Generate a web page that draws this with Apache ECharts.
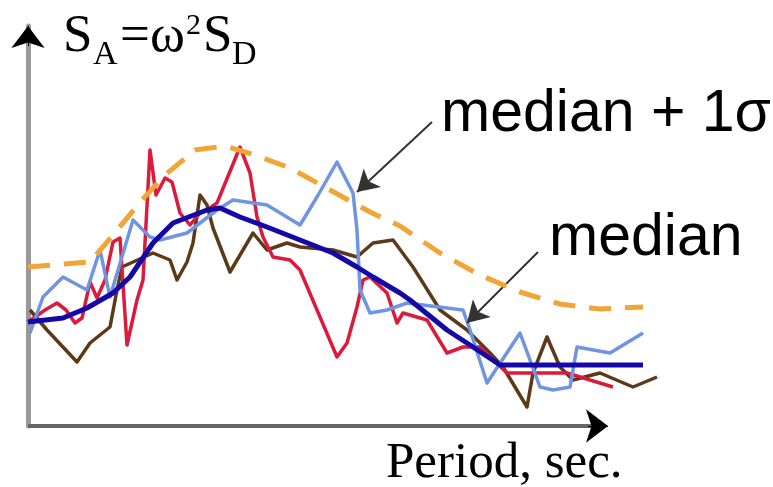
<!DOCTYPE html>
<html>
<head>
<meta charset="utf-8">
<script src="https://cdn.jsdelivr.net/npm/echarts@6/dist/echarts.min.js"></script>
<style>html,body{margin:0;padding:0;background:#fff}#c{width:773px;height:487px}</style>
</head>
<body>
<div id="c"></div>
<script>
// Period (sec, schematic) and spectral acceleration (schematic units)
const medianPlus1Sigma = [[0,1.59],[0.62,1.64],[0.85,1.91],[1.14,2.26],[1.37,2.51],[1.67,2.76],[1.97,2.80],[2.27,2.71],[2.62,2.58],[3.02,2.36],[3.42,2.14],[3.72,2.00],[4.12,1.73],[4.52,1.51],[4.92,1.34],[5.32,1.22],[5.72,1.17],[6.15,1.19]];
const medianLine = [[0,1.04],[0.35,1.08],[0.59,1.18],[0.85,1.33],[1.02,1.49],[1.25,1.83],[1.45,2.03],[1.79,2.16],[1.92,2.18],[2.12,2.09],[2.39,1.99],[2.72,1.86],[3.05,1.73],[3.29,1.59],[3.45,1.49],[3.72,1.33],[3.82,1.26],[4.19,0.96],[4.45,0.79],[4.72,0.61],[6.15,0.61]];
const recordRed = [[0,1.04],[0.17,1.16],[0.29,1.23],[0.38,1.16],[0.47,1.03],[0.54,1.08],[0.62,1.44],[0.69,1.28],[0.77,1.46],[0.85,1.84],[0.92,1.88],[0.99,0.81],[1.09,1.26],[1.15,1.46],[1.22,2.76],[1.28,2.31],[1.37,2.48],[1.44,2.44],[1.52,2.13],[1.62,2.01],[1.72,2.13],[1.79,2.16],[1.89,2.23],[2.12,2.79],[2.22,2.53],[2.29,2.09],[2.35,1.89],[2.45,1.69],[2.62,1.66],[2.72,1.56],[2.92,1.09],[3.09,0.69],[3.19,0.83],[3.29,1.19],[3.35,1.46],[3.42,1.49],[3.59,1.33],[3.69,1.03],[3.75,1.13],[3.99,1.06],[4.19,0.73],[4.35,0.79],[4.52,0.79],[4.79,0.53],[5.19,0.53],[5.39,0.53],[5.62,0.46],[5.85,0.39]];
const recordBrown = [[0.02,1.16],[0.19,0.96],[0.49,0.64],[0.62,0.83],[0.82,0.99],[0.89,1.36],[0.94,1.59],[1.25,1.73],[1.42,1.66],[1.49,1.46],[1.59,1.64],[1.65,1.83],[1.72,2.31],[1.79,2.21],[1.85,1.98],[2.02,1.54],[2.25,1.93],[2.39,1.76],[2.59,1.83],[2.72,1.79],[3.05,1.76],[3.29,1.69],[3.45,1.83],[3.65,1.86],[3.85,1.59],[4.12,1.16],[4.39,0.96],[4.62,0.73],[4.75,0.59],[4.99,0.19],[5.05,0.53],[5.19,0.89],[5.32,0.59],[5.45,0.46],[5.72,0.53],[6.05,0.39],[6.29,0.49]];
const recordLightBlue = [[0.02,0.93],[0.15,1.29],[0.35,1.49],[0.59,1.36],[0.72,1.76],[0.82,1.29],[1.05,2.06],[1.22,1.89],[1.32,1.86],[1.59,1.93],[1.89,2.16],[2.05,2.26],[2.39,2.21],[2.72,2.01],[2.89,2.29],[3.09,2.64],[3.25,2.33],[3.29,1.96],[3.32,1.36],[3.42,1.13],[3.59,1.16],[3.79,1.23],[4.35,1.16],[4.42,0.96],[4.59,0.43],[4.92,0.93],[5.12,0.39],[5.25,0.36],[5.42,0.39],[5.49,0.79],[5.82,0.73],[6.15,0.93]];
// axis extents drawn with arrows
const xAxisEnd = 5.8;
const yAxisEnd = 4.0;
// annotation arrows: [from, to]
const arrowSigma = [[4.04,3.04],[3.29,2.34]];
const arrowMedian = [[5.10,1.74],[4.39,1.03]];
const labelSigma = 'median + 1σ';
const labelMedian = 'median';
const xAxisTitle = 'Period, sec.';

const chart = echarts.init(document.getElementById('c'), null, {renderer:'canvas'});
function lineSeries(name, data, color, width, z, dash){
  return {name, type:'line', data, showSymbol:false, symbol:'none', clip:false, z,
    lineStyle:{color, width, type: dash || 'solid', cap:'butt', join:'round'}, silent:true, animation:false};
}
const serif = 'Liberation Serif';
const sans = 'Liberation Sans';
function txt(text, x, y, size, family){
  return {type:'text', x, y, style:{text, font: size+'px "'+family+'"', fill:'#000', verticalAlign:'middle', align:'left'}, z:100};
}
chart.setOption({
  animation:false,
  backgroundColor:'#fff',
  grid:{left:28, right:113, top:26, bottom:61, containLabel:false},
  xAxis:{type:'value', min:0, max:6.32, splitLine:{show:false}, axisTick:{show:false}, axisLabel:{show:false},
    axisLine:{show:false}},
  yAxis:{type:'value', min:0, max:4, splitLine:{show:false}, axisTick:{show:false}, axisLabel:{show:false},
    axisLine:{show:true, lineStyle:{color:'#999', width:5}}},
  series:[
    {type:'line', data:[], z:1, silent:true, animation:false,
      markLine:{silent:true, animation:false, label:{show:false}, symbol:['none','none'],
        lineStyle:{color:'#666', width:4, type:'solid'},
        data:[[{coord:[0,0]},{coord:[xAxisEnd-0.1,0]}]]}},
    lineSeries('brown', recordBrown, '#5c3a18', 3.5, 2),
    lineSeries('red', recordRed, '#dc1a3c', 3.5, 3),
    lineSeries('lightblue', recordLightBlue, '#6f95e2', 3.5, 4),
    lineSeries('median + 1σ', medianPlus1Sigma, '#f0a535', 5, 5, [22,14]),
    lineSeries('median', medianLine, '#1409a8', 5, 6),
    {type:'line', data:[], z:10, silent:true, animation:false,
      markLine:{silent:true, animation:false, label:{show:false}, symbol:['none','arrow'], symbolSize:[19,21],
        lineStyle:{color:'#333', width:2, type:'solid'}, itemStyle:{color:'#000'},
        data:[
          [{coord:arrowSigma[0]},{coord:arrowSigma[1]}],
          [{coord:arrowMedian[0]},{coord:arrowMedian[1]}]
        ]}},
    {type:'line', data:[], z:11, silent:true, animation:false,
      markLine:{silent:true, animation:false, label:{show:false}, symbol:['none','arrow'], symbolSize:[25,22],
        lineStyle:{color:'#000', width:1, type:'solid'}, itemStyle:{color:'#000'},
        data:[
          [{coord:[xAxisEnd-0.2,0]},{coord:[xAxisEnd,0]}],
          [{coord:[0,yAxisEnd-0.2]},{coord:[0,yAxisEnd]}]
        ]}}
  ],
  graphic:[
    txt(labelSigma, 441, 115, 59, sans),
    txt(labelMedian, 549, 239, 59, sans),
    txt(xAxisTitle, 386, 464, 51, serif),
    txt('S', 63, 37, 53, serif),
    txt('A', 93, 55, 34, serif),
    txt('=ω', 120, 37, 53, serif),
    txt('2', 186, 26, 30, serif),
    txt('S', 203, 37, 53, serif),
    txt('D', 232, 55, 34, serif)
  ]
});
</script>
</body>
</html>
